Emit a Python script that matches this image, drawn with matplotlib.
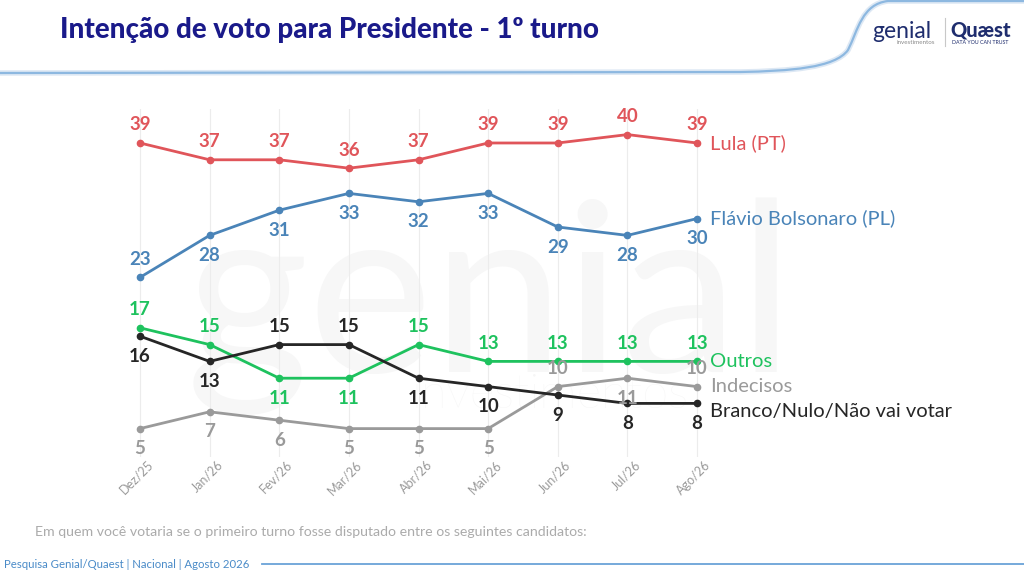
import matplotlib.pyplot as plt
from matplotlib.path import Path
from matplotlib.patches import PathPatch
import matplotlib.transforms as mtransforms

meses = ["Dez/25", "Jan/26", "Fev/26", "Mar/26", "Abr/26", "Mai/26", "Jun/26", "Jul/26", "Ago/26"]

lula = [39, 37, 37, 36, 37, 39, 39, 40, 39]
flavio = [23, 28, 31, 33, 32, 33, 29, 28, 30]
outros = [17, 15, 11, 11, 15, 13, 13, 13, 13]
indecisos = [5, 7, 6, 5, 5, 5, 10, 11, 10]
branco = [16, 13, 15, 15, 11, 10, 9, 8, 8]

# +1 = label above the point, -1 = below
lula_pos = [1] * 9
flavio_pos = [1, -1, -1, -1, -1, -1, -1, -1, -1]
outros_pos = [1, 1, -1, -1, 1, 1, 1, 1, 1]
indecisos_pos = [-1, -1, -1, -1, -1, -1, 1, -1, 1]
branco_pos = [-1, -1, 1, 1, -1, -1, -1, -1, -1]

series = [
    ("Lula (PT)", lula, lula_pos, "#e0555a", 0),
    ("Flávio Bolsonaro (PL)", flavio, flavio_pos, "#4a84b8", 0),
    ("Outros", outros, outros_pos, "#1ec25e", 0),
    ("Indecisos", indecisos, indecisos_pos, "#9a9a9a", 0),
    ("Branco/Nulo/Não vai votar", branco, branco_pos, "#262626", -6),
]

fig = plt.figure(figsize=(10.24, 5.76), dpi=100)

# decoration layer in pixel coords
deco = fig.add_axes([0, 0, 1, 1], zorder=0)
deco.set_xlim(0, 1024)
deco.set_ylim(576, 0)
deco.axis("off")

# watermark
deco.text(490, 372, "genial", fontsize=170, color="#f7f7f7", family="Lato",
          ha="center", va="baseline", zorder=0)
deco.text(550, 408, "investimentos", fontsize=34, color="#f6f6f6", family="Lato",
          fontweight="light", ha="center", va="baseline", zorder=0)

# header line with curve
verts = [(0, 73), (740, 72), (790, 71), (835, 68), (848, 50),
         (858, 30), (862, 4), (888, 1), (1024, 1)]
codes = [Path.MOVETO, Path.LINETO, Path.CURVE4, Path.CURVE4, Path.CURVE4,
         Path.CURVE4, Path.CURVE4, Path.CURVE4, Path.LINETO]
deco.add_patch(PathPatch(Path(verts, codes), fill=False, edgecolor="#dde8f4", lw=4))
deco.add_patch(PathPatch(Path(verts, codes), fill=False, edgecolor="#8db8e0", lw=1.6))

deco.text(60, 30, "Intenção de voto para Presidente - 1º turno", fontsize=20,
          fontweight="black", family="Lato", color="#1a1a8a", va="center", ha="left")

# logo
deco.text(872, 31, "genial", fontsize=16.5, family="Lato", color="#1f2d6e", va="center")
deco.text(897, 43, "investimentos", fontsize=4.5, family="Lato", color="#8a8a8a", va="center")
deco.plot([945, 945], [18, 46], color="#c8c8c8", lw=0.8)
deco.text(950, 30, "Quæst", fontsize=14.5, family="Lato", fontweight="black", color="#1f2d6e", va="center")
deco.text(952, 43, "DATA YOU CAN TRUST", fontsize=3.8, family="Lato", color="#1f2d6e", va="center")

# footer
deco.text(35, 532, "Em quem você votaria se o primeiro turno fosse disputado entre os seguintes candidatos:",
          fontsize=10.2, family="Lato", color="#ababab", va="center")
deco.text(4, 564, "Pesquisa Genial/Quaest | Nacional | Agosto 2026", fontsize=8.2,
          family="Lato", color="#4a8bc8", va="center")
deco.plot([262, 1024], [564, 564], color="#6aa3d8", lw=1.3)

# main chart
ax = fig.add_axes([0.1027, 0.2066, 0.612, 0.6035], zorder=1)
ax.patch.set_alpha(0)
x = list(range(len(meses)))
ax.set_xlim(-0.5, 8.5)
ax.set_ylim(1.62, 43)

for name, vals, pos, color, dy in series:
    ax.plot(x, vals, color=color, lw=2, marker="o", markersize=4.5, zorder=3)
    for xi, v, p in zip(x, vals, pos):
        off = 13 if p > 0 else -14.5
        ax.annotate(str(v), (xi, v), xytext=(0, off), textcoords="offset points",
                    ha="center", va="center", fontsize=13.5, fontweight="bold",
                    family="Lato", color=color, zorder=4)
    ax.annotate(name, (x[-1], vals[-1]), xytext=(9.5, dy), textcoords="offset points",
                ha="left", va="center", fontsize=14.5, family="Lato", color=color,
                annotation_clip=False)

for s in ax.spines.values():
    s.set_visible(False)
ax.set_yticks([])
ax.set_xticks(x)
ax.set_xticklabels(meses, rotation=45, ha="right", va="top", rotation_mode="anchor",
                   fontsize=9, family="Lato", color="#9a9a9a")
ax.tick_params(axis="x", length=0, pad=1)
shift = mtransforms.ScaledTranslation(7 / 100, 0, fig.dpi_scale_trans)
for lbl in ax.get_xticklabels():
    lbl.set_transform(lbl.get_transform() + shift)
ax.grid(axis="x", color="#ececec", lw=0.8, zorder=0)

fig.savefig("out.png", dpi=100)
